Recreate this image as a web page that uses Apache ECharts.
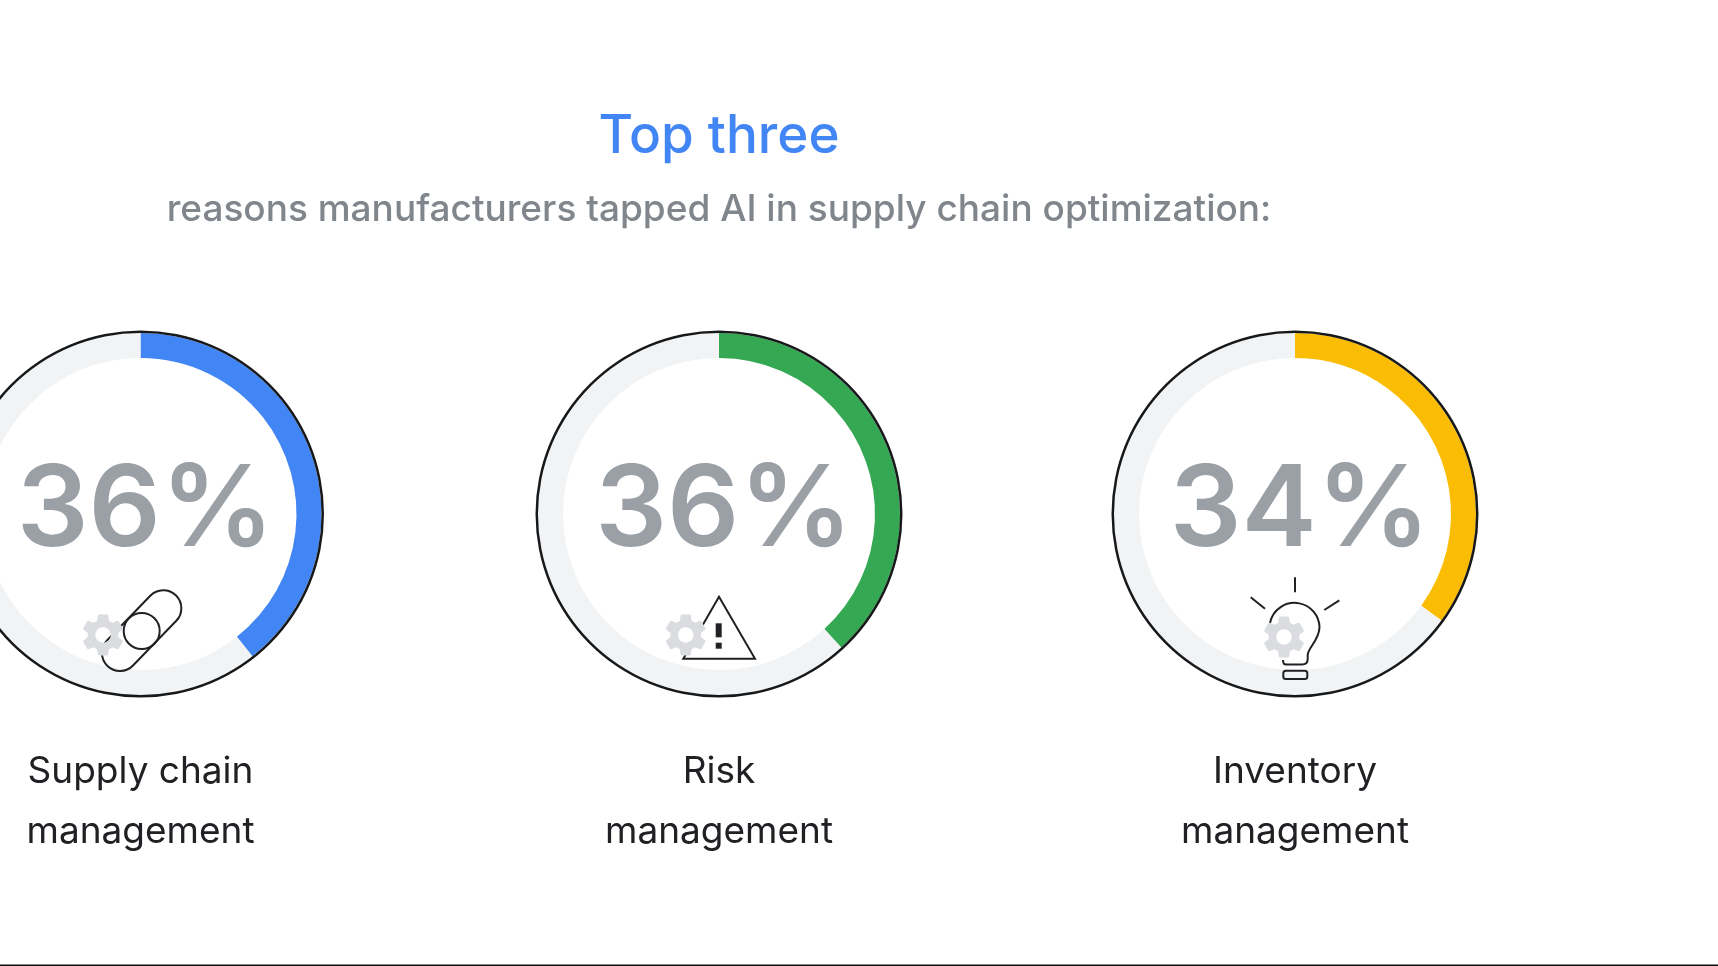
<!DOCTYPE html>
<html>
<head>
<meta charset="utf-8">
<style>
  html, body { margin: 0; padding: 0; background: #fff; }
  #chart { width: 1718px; height: 966px; }
</style>
<script src="https://cdn.jsdelivr.net/npm/echarts@6/dist/echarts.min.js"></script>
</head>
<body>
<div id="chart"></div>
<script>
const reasons = ["Supply chain\nmanagement", "Risk\nmanagement", "Inventory\nmanagement"];
const percentLabels = ["36%", "36%", "34%"];
// the arcs in the picture run a bit longer than the printed numbers
const arcShares = [39.4, 38.2, 35];
const arcColors = ["#4285F4", "#34A853", "#FBBC04"];
const centersX = [140.5, 719, 1295];
const centerY = 514;
const fontFamily = "Inter, sans-serif";
const ink = "#202124";

const gearPath = "M19.14 12.94c.04-.3.06-.61.06-.94 0-.32-.02-.64-.07-.94l2.03-1.58c.18-.14.23-.41.12-.61l-1.92-3.32c-.12-.22-.37-.29-.59-.22l-2.39.96c-.5-.38-1.03-.7-1.62-.94l-.36-2.54c-.04-.24-.24-.41-.48-.41h-3.84c-.24 0-.43.17-.47.41l-.36 2.54c-.59.24-1.13.57-1.62.94l-2.39-.96c-.22-.08-.47 0-.59.22L2.74 8.87c-.12.21-.08.47.12.61l2.03 1.58c-.05.3-.09.63-.09.94s.02.64.07.94l-2.03 1.58c-.18.14-.23.41-.12.61l1.92 3.32c.12.22.37.29.59.22l2.39-.96c.5.38 1.03.7 1.62.94l.36 2.54c.05.24.24.41.48.41h3.84c.24 0 .44-.17.47-.41l.36-2.54c.59-.24 1.13-.56 1.62-.94l2.39.96c.22.08.47 0 .59-.22l1.92-3.32c.12-.22.07-.47-.12-.61l-2.01-1.58zM12 15.6c-1.98 0-3.6-1.62-3.6-3.6s1.62-3.6 3.6-3.6 3.6 1.62 3.6 3.6-1.62 3.6-3.6 3.6z";

function outline(pathData) {
  return {
    type: "path",
    shape: { pathData: pathData },
    style: { fill: "none", stroke: ink, lineWidth: 2 }
  };
}

function gear(cx, cy) {
  const size = 41;
  return {
    type: "path",
    shape: { pathData: gearPath, x: cx - size / 2, y: cy - size / 2, width: size, height: size, layout: "center" },
    style: { fill: "#DADCE0" }
  };
}

const icons = [
  // link
  outline("M150.3 595.8A18 18 0 0 1 176.3 620.8L133 665.5A18 18 0 0 1 107 640.5Z"),
  outline("M141.7 613A18 18 0 1 1 141.7 649A18 18 0 1 1 141.7 613Z"),
  gear(103, 635),
  // warning
  outline("M719 596.7L755 658.7L683.3 658.7Z"),
  { type: "rect", shape: { x: 715.7, y: 623.3, width: 6, height: 14 }, style: { fill: ink } },
  { type: "rect", shape: { x: 715.7, y: 642.7, width: 6, height: 6 }, style: { fill: ink } },
  gear(685.7, 635),
  // bulb
  outline("M1295 577.3L1295 592.3M1250.7 597.3L1265 608.7M1339.3 600.3L1324.3 610"),
  outline("M1270 623A25 25 0 0 1 1319.5 627C1319.5 640 1307.7 648 1307.7 655L1307.7 659Q1307.7 664.5 1302 664.5L1286 664.5Q1283 664.5 1283 660"),
  { type: "rect", shape: { x: 1283.3, y: 670.7, width: 24, height: 8.3, r: 2.5 }, style: { fill: "none", stroke: ink, lineWidth: 2 } },
  gear(1284, 637),
  // rule along the bottom edge
  { type: "rect", shape: { x: 0, y: 964.4, width: 1718, height: 1.6 }, style: { fill: "#111" } }
];

const series = [];
arcShares.forEach((share, i) => {
  series.push({
    type: "pie",
    silent: true,
    animation: false,
    center: [centersX[i], centerY],
    radius: [156, 181],
    startAngle: 90,
    clockwise: true,
    label: { show: false },
    labelLine: { show: false },
    data: [
      { value: share, itemStyle: { color: arcColors[i] } },
      { value: 100 - share, itemStyle: { color: "#F1F3F4" } }
    ]
  });
  series.push({
    type: "pie",
    silent: true,
    animation: false,
    center: [centersX[i], centerY],
    radius: [181, 183.5],
    label: { show: false },
    labelLine: { show: false },
    data: [{ value: 100, itemStyle: { color: "#17181a" } }]
  });
});

// icons are drawn by one custom series, it has no axes
series.push({
  type: "custom",
  coordinateSystem: "none",
  silent: true,
  animation: false,
  z: 5,
  data: [0],
  renderItem: () => ({ type: "group", children: icons })
});

const titles = [
  {
    text: "Top three",
    left: 719,
    top: 137,
    padding: 0,
    textAlign: "center",
    textVerticalAlign: "middle",
    textStyle: { color: "#4285F4", fontFamily: fontFamily, fontSize: 53, fontWeight: 500 }
  },
  {
    text: "reasons manufacturers tapped AI in supply chain optimization:",
    left: 719,
    top: 210,
    padding: 0,
    textAlign: "center",
    textVerticalAlign: "middle",
    textStyle: { color: "#80868B", fontFamily: fontFamily, fontSize: 37, fontWeight: 500 }
  }
];
percentLabels.forEach((label, i) => {
  titles.push({
    text: label,
    left: centersX[i] + 5,
    top: 512,
    padding: 0,
    textAlign: "center",
    textVerticalAlign: "middle",
    textStyle: { color: "#9AA0A6", fontFamily: fontFamily, fontSize: 113, fontWeight: 600 }
  });
  titles.push({
    text: reasons[i],
    left: centersX[i],
    top: 802,
    padding: 0,
    textAlign: "center",
    textVerticalAlign: "middle",
    textStyle: { color: ink, fontFamily: fontFamily, fontSize: 37, fontWeight: 400, lineHeight: 60 }
  });
});

const chart = echarts.init(document.getElementById("chart"), null, { renderer: "canvas" });
chart.setOption({
  backgroundColor: "#fff",
  animation: false,
  title: titles,
  series: series
});
</script>
</body>
</html>
